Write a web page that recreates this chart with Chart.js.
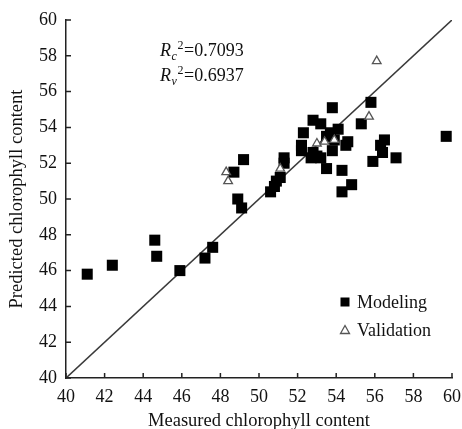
<!DOCTYPE html>
<html>
<head>
<meta charset="utf-8">
<script src="https://cdn.jsdelivr.net/npm/chart.js@4.4.1/dist/chart.umd.min.js"></script>
<style>
  html, body { margin: 0; padding: 0; background: #fff; }
  #wrap { width: 462px; height: 429px; }
</style>
</head>
<body>
<div id="wrap"><canvas id="graph"></canvas></div>
<script>
// measured (x) vs predicted (y) chlorophyll content
const modelingX = [41.1, 42.4, 44.6, 44.7, 45.9, 47.2, 47.6,
  48.7, 49.2, 48.9, 49.1,
  50.6, 50.8, 50.9, 51.1, 51.3, 51.3,
  52.2, 52.2, 52.3, 52.8, 53.2, 53.8,
  54.1, 53.7, 53.5, 53.9, 54.6, 54.5,
  52.8, 53.0, 52.7, 53.2, 53.8, 53.5, 54.3, 54.8, 54.3,
  55.3, 55.8, 56.5, 56.3, 56.4, 55.9, 57.1, 59.7];
const modelingY = [45.8, 46.3, 47.7, 46.8, 46.0, 46.7, 47.3,
  51.5, 52.2, 50.0, 49.5,
  50.4, 50.7, 51.0, 51.2, 52.0, 52.3,
  53.0, 52.7, 53.7, 54.4, 54.2, 55.1,
  53.9, 53.7, 53.5, 53.3, 53.2, 53.0,
  52.6, 52.4, 52.3, 52.3, 52.7, 51.7, 51.6, 50.8, 50.4,
  54.2, 55.4, 53.3, 53.0, 52.6, 52.1, 52.3, 53.5];
const validationX = [48.3, 48.4, 51.1, 53.0, 53.4, 53.9, 55.7, 56.1];
const validationY = [51.5, 51.0, 51.7, 53.1, 53.2, 53.3, 54.6, 57.7];
const lineX = [40, 60];
const lineY = [40, 60];
const tickValues = [40, 42, 44, 46, 48, 50, 52, 54, 56, 58, 60];
const r2Subs = ['c', 'v'];
const r2Values = ['0.7093', '0.6937'];
const legendOrder = ['Modeling', 'Validation'];

const serif = 'Liberation Serif';

function toPoints(xs, ys) {
  return xs.map((x, i) => ({ x: x, y: ys[i] }));
}

// R² text in the top left of the plot
const r2Plugin = {
  id: 'r2text',
  afterDraw(chart) {
    const ctx = chart.ctx;
    ctx.save();
    ctx.fillStyle = '#111';
    ctx.textBaseline = 'alphabetic';
    for (let i = 0; i < r2Subs.length; i++) {
      const x = 160;
      const y = 56 + i * 25;
      ctx.font = 'italic 18px "' + serif + '"';
      ctx.fillText('R', x, y);
      ctx.font = 'italic 12px "' + serif + '"';
      ctx.fillText(r2Subs[i], x + 11.5, y + 4);
      ctx.font = '12px "' + serif + '"';
      ctx.fillText('2', x + 17.5, y - 7);
      ctx.font = '18px "' + serif + '"';
      ctx.fillText('=' + r2Values[i], x + 24, y);
    }
    ctx.restore();
  }
};

// inward tick marks on both axes
const tickPlugin = {
  id: 'inwardTicks',
  afterDraw(chart) {
    const ctx = chart.ctx;
    const xs = chart.scales.x, ys = chart.scales.y;
    const area = chart.chartArea;
    ctx.save();
    ctx.strokeStyle = '#222';
    ctx.lineWidth = 1.5;
    ctx.beginPath();
    tickValues.forEach(v => {
      const px = xs.getPixelForValue(v);
      ctx.moveTo(px, area.bottom);
      ctx.lineTo(px, area.bottom - 5);
      const py = ys.getPixelForValue(v);
      ctx.moveTo(area.left, py);
      ctx.lineTo(area.left + 5, py);
    });
    ctx.stroke();
    ctx.restore();
  }
};

// legend inside the plot, lower right
const legendPlugin = {
  id: 'innerLegend',
  afterDraw(chart) {
    const ctx = chart.ctx;
    const sets = legendOrder.map(name => chart.data.datasets.find(d => d.label === name));
    ctx.save();
    ctx.font = '18px "' + serif + '"';
    ctx.textBaseline = 'middle';
    sets.forEach((d, i) => {
      const cx = 345;
      const cy = 302 + i * 28;
      if (d.pointStyle === 'rect') {
        ctx.fillStyle = '#000';
        ctx.fillRect(cx - 4.5, cy - 4.5, 9, 9);
      } else {
        ctx.strokeStyle = '#555';
        ctx.lineWidth = 1.3;
        ctx.beginPath();
        ctx.moveTo(cx, cy - 4.5);
        ctx.lineTo(cx + 4.5, cy + 3.5);
        ctx.lineTo(cx - 4.5, cy + 3.5);
        ctx.closePath();
        ctx.stroke();
      }
      ctx.fillStyle = '#111';
      ctx.fillText(d.label, 357, cy + 1);
    });
    ctx.restore();
  }
};

const data = {
  datasets: [
    {
      type: 'scatter',
      label: 'Validation',
      data: toPoints(validationX, validationY),
      pointStyle: 'triangle',
      pointRadius: 5,
      pointBackgroundColor: '#fff',
      pointBorderColor: '#555',
      pointBorderWidth: 1.3,
    },
    {
      type: 'scatter',
      label: 'Modeling',
      data: toPoints(modelingX, modelingY),
      pointStyle: 'rect',
      pointRadius: 7.8,
      pointBackgroundColor: '#000',
      pointBorderColor: '#000',
      pointBorderWidth: 0,
    },
    {
      type: 'line',
      label: '1:1',
      data: toPoints(lineX, lineY),
      borderColor: '#3a3a3a',
      borderWidth: 1.6,
      pointRadius: 0,
      fill: false,
    }
  ]
};

const axisFont = { family: serif, size: 18 };
const titleFont = { family: serif, size: 18.5 };

const config = {
  type: 'scatter',
  data,
  options: {
    responsive: true,
    maintainAspectRatio: false,
    animation: false,
    layout: { padding: { top: 20, right: 10, left: 0, bottom: 0 } },
    plugins: {
      legend: { display: false },
      tooltip: { enabled: false }
    },
    scales: {
      x: {
        type: 'linear',
        min: 40,
        max: 60,
        afterBuildTicks: s => { s.ticks = tickValues.map(v => ({ value: v })); },
        ticks: { color: '#111', font: axisFont, padding: 8, maxRotation: 0 },
        grid: { drawOnChartArea: false, drawTicks: false },
        border: { color: '#222', width: 1.5 },
        title: { display: true, text: 'Measured chlorophyll content', color: '#111', font: titleFont, padding: { top: 0, bottom: -3 } },
        afterFit: s => { s.height = 51; s.paddingLeft = 0; s.paddingRight = 0; }
      },
      y: {
        type: 'linear',
        min: 40,
        max: 60,
        afterBuildTicks: s => { s.ticks = tickValues.map(v => ({ value: v })); },
        ticks: { color: '#111', font: axisFont, padding: 9 },
        grid: { drawOnChartArea: false, drawTicks: false },
        border: { color: '#222', width: 1.5 },
        title: { display: true, text: 'Predicted chlorophyll content', color: '#111', font: titleFont, padding: 6 },
        afterFit: s => { s.width = 66; s.paddingTop = 0; s.paddingBottom = 0; }
      }
    }
  },
  plugins: [r2Plugin, tickPlugin, legendPlugin]
};

const chart = new Chart(document.getElementById('graph'), config);
</script>
</body>
</html>
